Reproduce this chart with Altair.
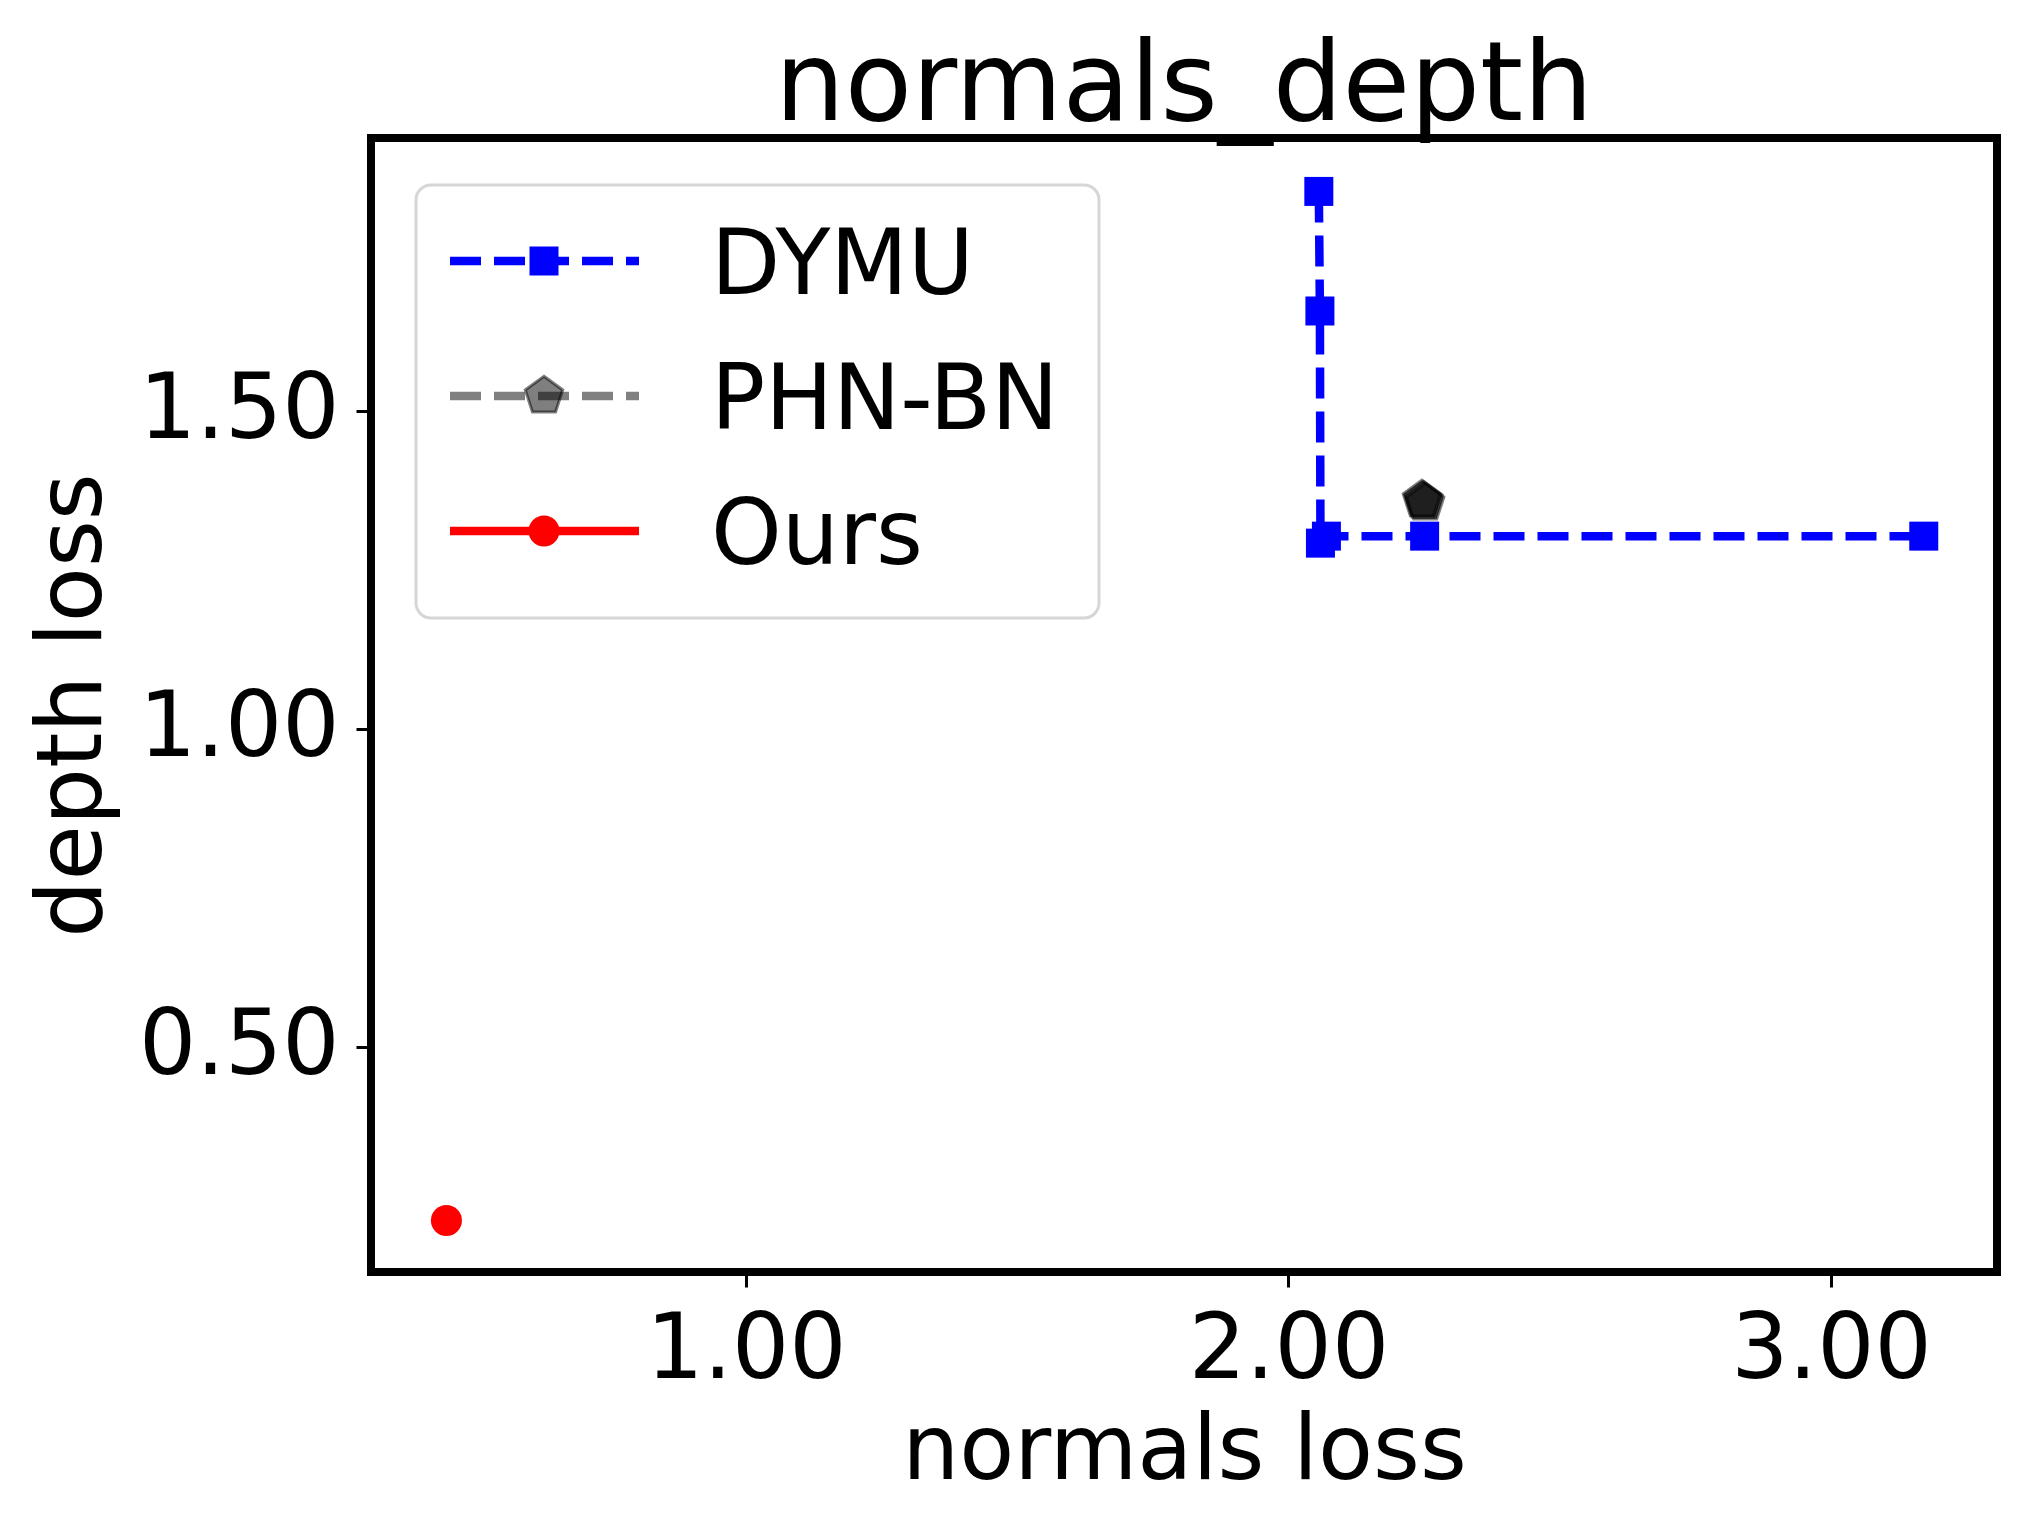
import altair as alt
import pandas as pd

# ---- data ----
dymu_x = [2.056, 2.058, 2.059, 2.070, 2.251, 3.171]
dymu_y = [1.845, 1.657, 1.292, 1.303, 1.303, 1.303]
phn_x = [2.246, 2.249, 2.252]
phn_y = [1.360, 1.358, 1.355]
ours_x = [0.448]
ours_y = [0.227]
series = ["DYMU", "PHN-BN", "Ours"]
x_ticks = [1.0, 2.0, 3.0]
y_ticks = [0.5, 1.0, 1.5]
x_domain = [0.309, 3.306]
y_domain = [0.146, 1.929]

FONT = "DejaVu Sans"
W, H = 1626, 1134
PENTAGON = "M0,-1L0.951,-0.309L0.588,0.809L-0.588,0.809L-0.951,-0.309Z"
BLUE = "#0000ff"
RED = "#ff0000"
GRAY = "#808080"
LW = 8.5

xs = alt.Scale(domain=x_domain, nice=False, zero=False)
ys = alt.Scale(domain=y_domain, nice=False, zero=False)

xaxis = alt.Axis(values=x_ticks, format=".2f", title="normals loss", grid=False, domain=False,
                 tickSize=15, tickWidth=3, tickColor="black",
                 labelFontSize=90, labelFont=FONT, labelColor="black", labelPadding=90,
                 labelBaseline="alphabetic", labelFlush=False, labelOverlap=False, labelLimit=0,
                 titleFontSize=90, titleFont=FONT, titleFontWeight="normal", titleColor="black",
                 titleX=W / 2, titleY=206, titleBaseline="alphabetic", titleAlign="center",
                 titleLimit=0)
yaxis = alt.Axis(values=y_ticks, format=".2f", title="depth loss", grid=False, domain=False,
                 tickSize=15, tickWidth=3, tickColor="black",
                 labelFontSize=90, labelFont=FONT, labelColor="black", labelPadding=17,
                 labelBaseline="middle", labelFlush=False, labelOverlap=False, labelLimit=0,
                 titleFontSize=90, titleFont=FONT, titleFontWeight="normal", titleColor="black",
                 titleAngle=270, titleX=-271, titleY=H / 2, titleBaseline="alphabetic",
                 titleAlign="center", titleLimit=0)

dymu_df = pd.DataFrame({"x": dymu_x, "y": dymu_y})
phn_df = pd.DataFrame({"x": phn_x, "y": phn_y})
ours_df = pd.DataFrame({"x": ours_x, "y": ours_y})

enc = dict(x=alt.X("x:Q", scale=xs, axis=xaxis), y=alt.Y("y:Q", scale=ys, axis=yaxis))

dymu_line = alt.Chart(dymu_df).mark_line(color=BLUE, strokeWidth=LW, strokeDash=[31, 13]).encode(**enc)
dymu_pts = alt.Chart(dymu_df).mark_point(filled=True, shape="square", size=841, color=BLUE, opacity=1).encode(**enc)
phn_pts = alt.Chart(phn_df).mark_point(shape=PENTAGON, size=1550, fill="black", fillOpacity=0.5,
                                      stroke="black", strokeOpacity=0.5, strokeWidth=3).encode(**enc)
ours_pts = alt.Chart(ours_df).mark_point(filled=True, shape="circle", size=961, color=RED, opacity=1).encode(**enc)

# ---- legend (inside plot, upper left) ----
legend_box = alt.Chart(pd.DataFrame({"label": ["legend"]})).mark_rect(
    cornerRadius=15, fill="white", fillOpacity=0.8, stroke="#d6d6d6", strokeWidth=3
).encode(x=alt.value(45), x2=alt.value(728), y=alt.value(47), y2=alt.value(480))

styles = {
    "DYMU": dict(line=dict(color=BLUE, strokeDash=[31, 13]),
                 pt=dict(filled=True, shape="square", size=841, color=BLUE, opacity=1)),
    "PHN-BN": dict(line=dict(color=GRAY, strokeDash=[31, 13]),
                   pt=dict(shape=PENTAGON, size=1550, fill="black", fillOpacity=0.5,
                           stroke="black", strokeOpacity=0.5, strokeWidth=3)),
    "Ours": dict(line=dict(color=RED),
                 pt=dict(filled=True, shape="circle", size=961, color=RED, opacity=1)),
}

legend_layers = [legend_box]
for i, name in enumerate(series):
    ry = 123 + 135 * i
    d = pd.DataFrame({"label": [name]})
    st = styles[name]
    legend_layers.append(alt.Chart(d).mark_rule(strokeWidth=LW, **st["line"]).encode(
        x=alt.value(79), x2=alt.value(268), y=alt.value(ry)))
    legend_layers.append(alt.Chart(d).mark_point(**st["pt"]).encode(
        x=alt.value(173), y=alt.value(ry)))
    legend_layers.append(alt.Chart(d).mark_text(align="left", baseline="alphabetic", fontSize=90,
                                               font=FONT, color="black").encode(
        x=alt.value(340), y=alt.value(ry + 33), text="label:N"))

chart = alt.layer(dymu_line, dymu_pts, phn_pts, ours_pts, *legend_layers).properties(
    width=W, height=H,
    title=alt.TitleParams("normals_depth", fontSize=110, font=FONT, fontWeight="normal",
                          color="black", anchor="middle", baseline="alphabetic", offset=-92),
    autosize=alt.AutoSizeParams(type="none"),
    padding={"left": 363, "top": 130, "right": 22, "bottom": 248},
).configure(background="white", view=alt.ViewConfig(stroke="black", strokeWidth=8))

chart.save("out.html", embed_options={"renderer": "svg", "actions": False})
